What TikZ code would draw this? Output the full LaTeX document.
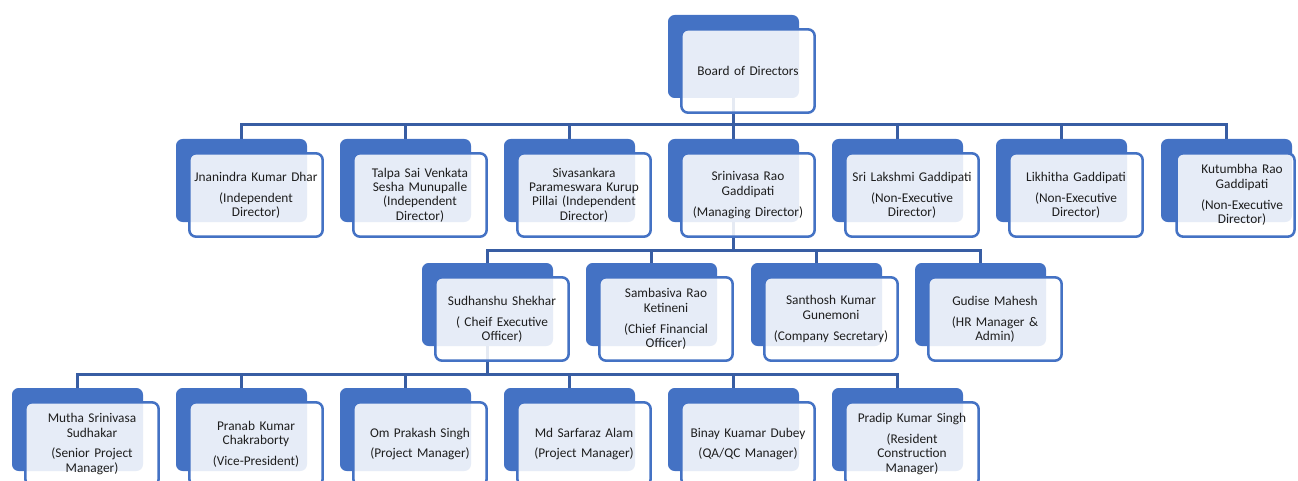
\documentclass[tikz,border=0pt]{standalone}
\usepackage{fontspec}
\setmainfont{Carlito}
\usetikzlibrary{backgrounds}
\definecolor{boxblue}{RGB}{68,114,196}
\definecolor{linkblue}{RGB}{56,93,163}
\definecolor{txt}{RGB}{30,30,30}
\tikzset{
  backbox/.style={fill=boxblue, draw=none, rounded corners=5pt,
    minimum width=98.25pt, minimum height=62.25pt, inner sep=0pt},
  frontbox/.style={fill=white, fill opacity=0.87, text opacity=1,
    draw=boxblue, line width=1.9pt, rounded corners=5pt,
    minimum width=100pt, minimum height=62.5pt, inner sep=2pt,
    text width=94pt, align=center, text=txt,
    font=\fontsize{10}{10.7}\selectfont},
  frontlabel/.style={text width=94pt, align=center, text=txt, inner sep=0pt,
    font=\fontsize{10}{10.7}\selectfont},
  conn/.style={draw=linkblue, line width=2.25pt}
}
\newcommand{\obox}[4]{%
  \node[backbox] (#1) at (#2+65.5,#3+41.5) {};
  \node[frontbox] (#1f) at (#2+80,#3+56) {#4};
}
\begin{document}
\begin{tikzpicture}[x=0.75pt,y=-0.75pt]
\useasboundingbox (0,0) rectangle (1298,481);
\clip (0,0) rectangle (1298,481);
% top
\obox{bod}{668}{15}{Board of Directors}
% row 2
\obox{jkd}{176}{139}{Jnanindra Kumar Dhar\\[5pt](Independent\\Director)}
\obox{tsv}{340}{139}{Talpa Sai Venkata\\Sesha Munupalle\\(Independent\\Director)}
\obox{spk}{504}{139}{Sivasankara\\Parameswara Kurup\\Pillai (Independent\\Director)}
\obox{srg}{668}{139}{Srinivasa Rao\\Gaddipati\\[5pt](Managing Director)}
\obox{slg}{832}{139}{Sri Lakshmi Gaddipati\\[5pt](Non-Executive\\Director)}
\obox{lkg}{996}{139}{Likhitha Gaddipati\\[5pt](Non-Executive\\Director)}
% last box of row 2 sits at the right edge: narrower front frame
\node[backbox] (krg) at (1161+65.5,139+41.5) {};
\node[frontbox, minimum width=88.5pt, text width=84pt] (krgf) at (1235.5,195) {};
\node[frontlabel] (krgt) at (1242,195) {Kutumbha Rao\\Gaddipati\\[5pt](Non-Executive\\Director)};
% row 3
\obox{ssh}{422}{263}{Sudhanshu Shekhar\\[5pt]( Cheif Executive\\Officer)}
\obox{srk}{586}{263}{Sambasiva Rao\\Ketineni\\[5pt](Chief Financial\\Officer)}
\obox{skg}{751}{263}{Santhosh Kumar\\Gunemoni\\[5pt](Company Secretary)}
\obox{gdm}{915}{263}{Gudise Mahesh\\[5pt](HR Manager \&\\Admin)}
% row 4
\obox{mss}{12}{388}{Mutha Srinivasa\\Sudhakar\\[5pt](Senior Project\\Manager)}
\obox{pkc}{176}{388}{Pranab Kumar\\Chakraborty\\[5pt](Vice-President)}
\obox{ops}{340}{388}{Om Prakash Singh\\[5pt](Project Manager)}
\obox{msa}{504}{388}{Md Sarfaraz Alam\\[5pt](Project Manager)}
\obox{bkd}{668}{388}{Binay Kuamar Dubey\\[5pt](QA/QC Manager)}
\obox{pks}{832}{388}{Pradip Kumar Singh\\[5pt](Resident\\Construction\\Manager)}
% bus levels
\coordinate (busA) at (0,125);
\coordinate (busB) at (0,250);
\coordinate (busC) at (0,374);
\begin{pgfonlayer}{background}
\foreach \c in {jkd,tsv,spk,srg,slg,lkg,krg}
  \draw[conn] (bod.center) -- (bod.center |- busA) -| (\c.north);
\foreach \c in {ssh,srk,skg,gdm}
  \draw[conn] (srg.center) -- (srg.center |- busB) -| (\c.north);
\foreach \c in {mss,pkc,ops,msa,bkd,pks}
  \draw[conn] (ssh.center) -- (ssh.center |- busC) -| (\c.north);
\end{pgfonlayer}
\end{tikzpicture}
\end{document}
